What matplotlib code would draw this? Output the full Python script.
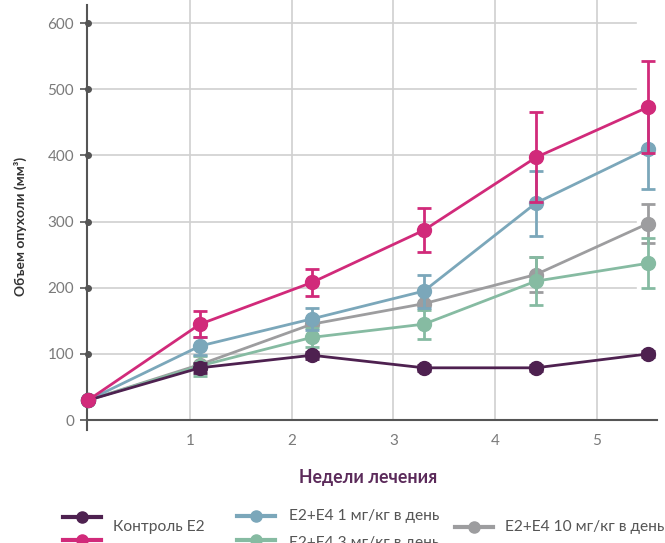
import matplotlib.pyplot as plt
from matplotlib.lines import Line2D

plt.rcParams['font.family'] = ['Lato', 'DejaVu Sans']

weeks = [0, 1.1, 2.2, 3.3, 4.4, 5.5]

control = [30, 79, 98, 79, 79, 100]
control_err = [0, 8, 5, 5, 5, 5]
dose1 = [30, 112, 153, 195, 328, 410]
dose1_err = [0, 14, 17, 25, 49, 60]
dose3 = [30, 82, 125, 145, 210, 237]
dose3_err = [0, 15, 14, 22, 36, 38]
dose10 = [30, 84, 145, 176, 220, 297]
dose10_err = [0, 0, 0, 0, 26, 30]
e2 = [30, 145, 208, 287, 397, 473]
e2_err = [0, 20, 21, 33, 68, 70]

labels = ["Контроль E2", "", "E2+E4 1 мг/кг в день",
          "E2+E4 3 мг/кг в день", "E2+E4 10 мг/кг в день"]
yticks = [0, 100, 200, 300, 400, 500, 600]
xticks = [1, 2, 3, 4, 5]

c_control = "#4e2150"
c_e2 = "#d12a7a"
c_d1 = "#7ba7ba"
c_d3 = "#86bba2"
c_d10 = "#9d9d9f"

fig = plt.figure(figsize=(6.65, 5.43), dpi=100)
ax = fig.add_axes([86.5 / 665, (543 - 430) / 543, (657 - 86.5) / 665, 430 / 543])
ax.set_xlim(-0.015, 5.59)
ax.set_ylim(-15, 635)

# grid
for xt in xticks:
    ax.plot([xt, xt], [0, 635], color="#d0d0d0", lw=1.2, zorder=0)
for yt in yticks[1:]:
    ax.plot([-0.015, 5.38], [yt, yt], color="#d0d0d0", lw=1.2, zorder=0)

series = [
    (dose10, dose10_err, c_d10),
    (dose3, dose3_err, c_d3),
    (dose1, dose1_err, c_d1),
    (control, control_err, c_control),
    (e2, e2_err, c_e2),
]
for i, (vals, err, col) in enumerate(series):
    ax.errorbar(weeks, vals, yerr=err, color=col, lw=2, marker="o", ms=10,
                capsize=5, capthick=2, elinewidth=2, zorder=3 + i, clip_on=False)

for s in ["top", "right"]:
    ax.spines[s].set_visible(False)
ax.spines["left"].set_bounds(-15, 628)
ax.spines["left"].set_color("#555555")
ax.spines["left"].set_linewidth(1.5)
ax.spines["bottom"].set_position(("data", 0))
ax.spines["bottom"].set_color("#555555")
ax.spines["bottom"].set_linewidth(1.5)

ax.set_yticks(yticks)
ax.set_xticks(xticks)
ax.tick_params(axis="y", length=5, width=1.2, color="#555555", labelcolor="#7a7a7a",
               labelsize=11, pad=4)
ax.tick_params(axis="x", length=0, labelcolor="#7a7a7a", labelsize=11, pad=10)
ax.plot([0] * 6, yticks[1:], "o", color="#555555", ms=4, clip_on=False, zorder=2)

ax.set_ylabel("Объем опухоли (мм³)", fontsize=10, fontweight="bold", color="#333333")
ax.yaxis.set_label_coords(-0.105, 0.474)
fig.text(368 / 665, 1 - 477 / 543, "Недели лечения", ha="center", va="center",
         fontsize=12.8, fontweight="bold", color="#5b2a5a")

# legend
leg = [
    (63, 517, c_control),
    (63, 540, c_e2),
    (237, 516, c_d1),
    (237, 540, c_d3),
    (455, 527, c_d10),
]
for x0, y0, col in leg:
    yy = 1 - y0 / 543
    fig.add_artist(Line2D([x0 / 665, (x0 + 38) / 665], [yy, yy], color=col, lw=3))
    fig.add_artist(Line2D([(x0 + 19) / 665], [yy], color=col, marker="o", ms=8, lw=0))
txt = [(113, 527, labels[0]), (289, 516, labels[2]), (289, 543, labels[3]),
       (505, 527, labels[4])]
for x0, y0, t in txt:
    fig.text(x0 / 665, 1 - y0 / 543, t, ha="left", va="center", fontsize=11.2,
             color="#555555")

fig.savefig("out.png", dpi=100)
